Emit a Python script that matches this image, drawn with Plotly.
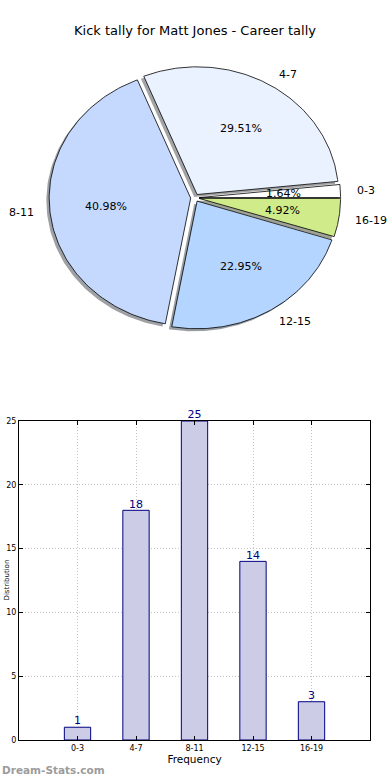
import math
import plotly.graph_objects as go

# ---------------- data ----------------
categories = ["0-3", "4-7", "8-11", "12-15", "16-19"]
counts = [1, 18, 25, 14, 3]
slice_colors = ["#FFFFFF", "#EBF2FF", "#C5D9FF", "#B3D5FF", "#D0EB8A"]
y_ticks = [0, 5, 10, 15, 20, 25]

title_text = "Kick tally for Matt Jones - Career tally"
x_title = "Frequency"
y_title = "Distribution"
watermark = "Dream-Stats.com"

# pie geometry (matplotlib style) in data units
explode = 0.03
label_dist = 1.1
pct_dist = 0.6
shadow_off = (-0.02, -0.02)

W, H = 390, 780
# pixel layout of the pie axes
cx_px, cy_px, sx, sy = 194.9, 197.8, 141.5, 127.7
pie_top_px, pie_bot_px = 50, 350
bar_left_px, bar_right_px, bar_top_px, bar_bot_px = 19, 370, 421, 740

fig = go.Figure()

total = sum(counts)
angles = []
start = 0.0
for v in counts:
    span = 360.0 * v / total
    angles.append((start, start + span))
    start += span


def wedge(a1, a2, ox, oy, n=120):
    xs, ys = [ox], [oy]
    for i in range(n + 1):
        t = math.radians(a1 + (a2 - a1) * i / n)
        xs.append(ox + math.cos(t))
        ys.append(oy + math.sin(t))
    xs.append(ox)
    ys.append(oy)
    return xs, ys


def hex_to_rgb(h):
    h = h.lstrip("#")
    return tuple(int(h[i:i + 2], 16) for i in (0, 2, 4))


# shadows first (behind all wedges)
for (a1, a2), col in zip(angles, slice_colors):
    mid = math.radians((a1 + a2) / 2)
    ox, oy = explode * math.cos(mid), explode * math.sin(mid)
    xs, ys = wedge(a1, a2, ox + shadow_off[0], oy + shadow_off[1])
    r, g, b = hex_to_rgb(col)
    sc = f"rgba({int(r*0.3)},{int(g*0.3)},{int(b*0.3)},0.5)"
    fig.add_trace(go.Scatter(x=xs, y=ys, mode="lines", fill="toself",
                             fillcolor=sc, line=dict(width=0),
                             hoverinfo="skip", showlegend=False,
                             xaxis="x", yaxis="y"))

annotations = []
for (a1, a2), col, lab, v in zip(angles, slice_colors, categories, counts):
    mid = math.radians((a1 + a2) / 2)
    ox, oy = explode * math.cos(mid), explode * math.sin(mid)
    xs, ys = wedge(a1, a2, ox, oy)
    fig.add_trace(go.Scatter(x=xs, y=ys, mode="lines", fill="toself",
                             fillcolor=col, line=dict(color="black", width=0.8),
                             hoverinfo="skip", showlegend=False,
                             xaxis="x", yaxis="y"))
    lx = ox + label_dist * math.cos(mid)
    ly = oy + label_dist * math.sin(mid)
    annotations.append(dict(x=lx, y=ly, xref="x", yref="y", text=lab,
                            showarrow=False,
                            xanchor="left" if lx > 0 else "right",
                            yanchor="middle",
                            font=dict(family="DejaVu Sans", size=11, color="black")))
    px_ = ox + pct_dist * math.cos(mid)
    py_ = oy + pct_dist * math.sin(mid)
    annotations.append(dict(x=px_, y=py_, xref="x", yref="y",
                            text=f"{100*v/total:.2f}%", showarrow=False,
                            xanchor="center", yanchor="middle",
                            font=dict(family="DejaVu Sans", size=11, color="black")))

# bar chart
fig.add_trace(go.Bar(x=list(range(len(categories))), y=counts, width=0.45,
                     marker=dict(color="#CCCCE6", line=dict(color="#000080", width=1)),
                     hoverinfo="skip", showlegend=False,
                     xaxis="x2", yaxis="y2"))
fig.add_trace(go.Scatter(x=list(range(len(categories))), y=counts, mode="text",
                         text=[str(c) for c in counts], textposition="top center",
                         textfont=dict(family="DejaVu Sans", size=11, color="#000080"),
                         cliponaxis=False, hoverinfo="skip", showlegend=False,
                         xaxis="x2", yaxis="y2"))

annotations.append(dict(x=0, y=1 - 770 / H, xref="paper", yref="paper",
                        text=f"<b>{watermark}</b>", showarrow=False,
                        xanchor="left", yanchor="middle",
                        font=dict(family="DejaVu Sans", size=10.5, color="#9c9c9c")))
# y-axis title, squeezed against the left page edge between tick labels
annotations.append(dict(x=0, y=1 - (bar_top_px + bar_bot_px) / 2 / H,
                        xref="paper", yref="paper", text=y_title, showarrow=False,
                        textangle=-90, xanchor="left", yanchor="middle",
                        font=dict(family="DejaVu Sans", size=7, color="black")))

x_rng = [-cx_px / sx, (W - cx_px) / sx]
y_rng = [-(pie_bot_px - cy_px) / sy, (cy_px - pie_top_px) / sy]

grid_col = "#c4c4c4"
fig.update_layout(
    width=W, height=H,
    margin=dict(l=0, r=0, t=0, b=0, autoexpand=False),
    paper_bgcolor="white", plot_bgcolor="white",
    title=dict(text=title_text, x=0.5, xanchor="center", y=1 - 30 / H,
               yanchor="middle", font=dict(family="DejaVu Sans", size=13, color="black")),
    xaxis=dict(domain=[0, 1], range=x_rng, visible=False, fixedrange=True,
               automargin=False),
    yaxis=dict(domain=[1 - pie_bot_px / H, 1 - pie_top_px / H], range=y_rng,
               visible=False, fixedrange=True, automargin=False),
    xaxis2=dict(domain=[bar_left_px / W, bar_right_px / W], range=[-1, 5], anchor="y2",
                automargin=False, fixedrange=True,
                tickmode="array", tickvals=list(range(len(categories))),
                ticktext=categories, showline=True, linecolor="black", linewidth=1,
                mirror="ticks", ticks="inside", ticklen=4, tickcolor="black",
                showgrid=True, gridcolor=grid_col, griddash="1px,2px", gridwidth=1,
                zeroline=False,
                tickfont=dict(family="DejaVu Sans", size=8, color="black"),
                title=dict(text=x_title, standoff=4,
                           font=dict(family="DejaVu Sans", size=10.5, color="black"))),
    yaxis2=dict(domain=[1 - bar_bot_px / H, 1 - bar_top_px / H], range=[0, 25], anchor="x2",
                automargin=False, fixedrange=True,
                tickmode="array", tickvals=y_ticks,
                showline=True, linecolor="black", linewidth=1,
                mirror="ticks", ticks="inside", ticklen=4, tickcolor="black",
                showgrid=True, gridcolor=grid_col, griddash="1px,2px", gridwidth=1,
                zeroline=False,
                tickfont=dict(family="DejaVu Sans", size=8, color="black")),
    annotations=annotations,
)

fig.write_html("out.html", config={"displayModeBar": False, "staticPlot": True},
               post_script="document.body.style.margin='0';document.body.style.overflow='hidden';")
